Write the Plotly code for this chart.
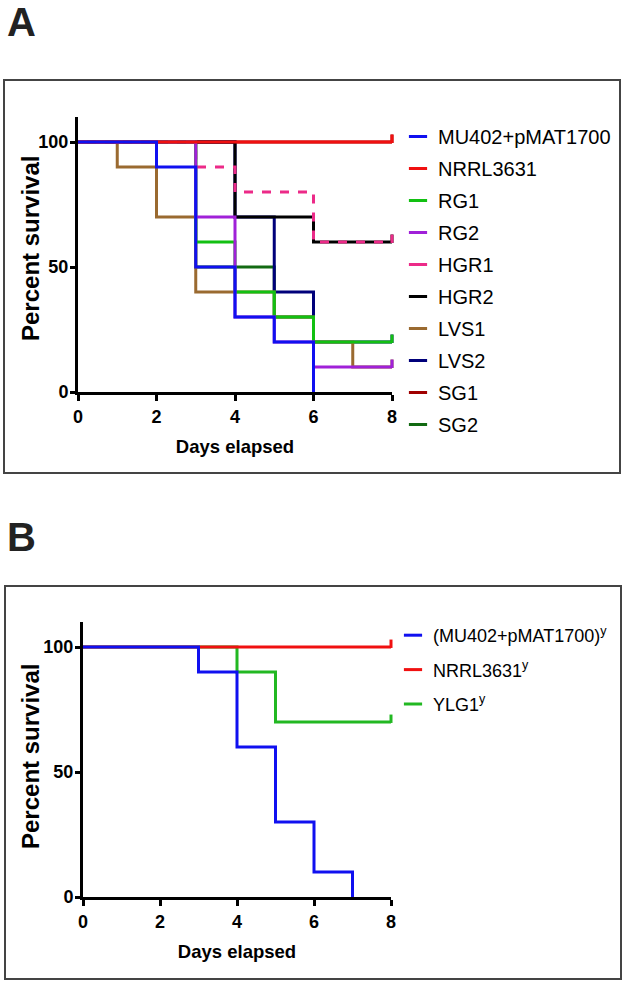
import plotly.graph_objects as go

W, H = 625, 984

# ---------------- data ----------------
names_a = ["MU402+pMAT1700", "NRRL3631", "RG1", "RG2", "HGR1", "HGR2",
           "LVS1", "LVS2", "SG1", "SG2"]
colors_a = ["#1010f0", "#f01010", "#12c012", "#a020d8", "#ec2a88", "#000000",
            "#9a6a30", "#00007a", "#a00000", "#126a12"]
dashes_a = ["solid", "solid", "solid", "solid", "dash", "solid",
            "solid", "solid", "solid", "solid"]
# stacking order (bottom -> top) of the curves as seen in the picture
draw_order_a = [9, 8, 7, 6, 5, 4, 2, 3, 1, 0]

mu402_a_days = [0, 2, 3, 4, 5, 6]
mu402_a_surv = [100, 90, 50, 30, 20, 0]
nrrl_a_days = [0, 8]
nrrl_a_surv = [100, 100]
rg1_days = [0, 3, 4, 5, 6, 8]
rg1_surv = [100, 60, 40, 30, 20, 20]
rg2_days = [0, 3, 4, 5, 6, 8]
rg2_surv = [100, 70, 30, 20, 10, 10]
hgr1_days = [0, 3, 4, 6, 8]
hgr1_surv = [100, 90, 80, 60, 60]
hgr2_days = [0, 4, 6, 8]
hgr2_surv = [100, 70, 60, 60]
lvs1_days = [0, 1, 2, 3, 5, 6, 7, 8]
lvs1_surv = [100, 90, 70, 40, 30, 20, 10, 10]
lvs2_days = [0, 4, 5, 6, 8]
lvs2_surv = [100, 70, 40, 20, 20]
sg1_days = [0, 8]
sg1_surv = [100, 100]
sg2_days = [0, 3, 5, 6]
sg2_surv = [100, 50, 30, 0]

days_a = [mu402_a_days, nrrl_a_days, rg1_days, rg2_days, hgr1_days, hgr2_days,
          lvs1_days, lvs2_days, sg1_days, sg2_days]
surv_a = [mu402_a_surv, nrrl_a_surv, rg1_surv, rg2_surv, hgr1_surv, hgr2_surv,
          lvs1_surv, lvs2_surv, sg1_surv, sg2_surv]

names_b = ["(MU402+pMAT1700)<sup>y</sup>", "NRRL3631<sup>y</sup>", "YLG1<sup>y</sup>"]
colors_b = ["#1010f0", "#f01010", "#22b822"]
draw_order_b = [2, 1, 0]
mu402_b_days = [0, 3, 4, 5, 6, 7]
mu402_b_surv = [100, 90, 60, 30, 10, 0]
nrrl_b_days = [0, 8]
nrrl_b_surv = [100, 100]
ylg1_days = [0, 4, 5, 8]
ylg1_surv = [100, 90, 70, 70]
days_b = [mu402_b_days, nrrl_b_days, ylg1_days]
surv_b = [mu402_b_surv, nrrl_b_surv, ylg1_surv]

x_ticks = [0, 2, 4, 6, 8]
y_ticks = [0, 50, 100]
x_max = 8
y_max = 110
x_title = "Days elapsed"
y_title = "Percent survival"

# ---------------- helpers ----------------
def px_x(p):
    return p / W


def px_y(p):
    return 1 - p / H


SANS = "Liberation Sans, Arial, Helvetica, sans-serif"
LW = 3
TICK_UP = 1.3  # censor tick drawn just above end of curve (data units)

fig = go.Figure()


def add_panel(days, surv, names, colors, dashes, order, xa, ya, legend):
    n = len(names)
    for i in order:
        fig.add_trace(go.Scatter(
            x=days[i], y=surv[i], mode="lines", line_shape="hv",
            line=dict(color=colors[i], width=LW, dash=dashes[i]),
            xaxis=xa, yaxis=ya, showlegend=False, hoverinfo="skip"))
        if surv[i][-1] > 0 and days[i][-1] == x_max:
            fig.add_trace(go.Scatter(
                x=[days[i][-1]], y=[surv[i][-1] + TICK_UP], mode="markers",
                marker=dict(symbol="line-ns", size=6,
                            line=dict(color=colors[i], width=LW)),
                cliponaxis=False, xaxis=xa, yaxis=ya, showlegend=False,
                hoverinfo="skip"))
    # legend entries in original order
    for i in range(n):
        fig.add_trace(go.Scatter(
            x=[None], y=[None], mode="markers", name=names[i],
            marker=dict(symbol="line-ew", size=13,
                        line=dict(color=colors[i], width=LW)),
            xaxis=xa, yaxis=ya, legend=legend, legendgroup=f"{legend}{i}"))


add_panel(days_a, surv_a, names_a, colors_a, dashes_a, draw_order_a, "x", "y", "legend")
add_panel(days_b, surv_b, names_b, colors_b, ["solid"] * 3, draw_order_b, "x2", "y2", "legend2")

tickfont = dict(family=SANS, size=18, color="black", weight="bold")
xtitle = dict(text=x_title,
              font=dict(family=SANS, size=18.5, color="black", weight="bold"),
              standoff=15)

common_x = dict(range=[0, x_max], tickvals=x_ticks, showline=True, linecolor="black",
                linewidth=LW, ticks="outside", ticklen=6, tickwidth=2.5,
                tickcolor="black", tickfont=tickfont, showgrid=False,
                zeroline=False, title=xtitle, automargin=False, fixedrange=True)
common_y = dict(range=[0, y_max], tickvals=y_ticks, showline=True, linecolor="black",
                linewidth=LW, ticks="outside", ticklen=5, tickwidth=2.5,
                tickcolor="black", tickfont=tickfont, showgrid=False,
                ticklabelstandoff=-2,
                zeroline=False, automargin=False, fixedrange=True)

ytitle_font = dict(family=SANS, size=24, color="black", weight="bold")
label_font = dict(family=SANS, size=40, color="#222222", weight="bold")

fig.update_layout(
    width=W, height=H, margin=dict(l=0, r=0, t=0, b=0),
    paper_bgcolor="white", plot_bgcolor="white",
    xaxis=dict(domain=[px_x(78), px_x(392)], anchor="y", **common_x),
    yaxis=dict(domain=[px_y(392), px_y(117)], anchor="x", **common_y),
    xaxis2=dict(domain=[px_x(83), px_x(391)], anchor="y2", **common_x),
    yaxis2=dict(domain=[px_y(897), px_y(622)], anchor="x2", **common_y),
    legend=dict(x=px_x(398), y=px_y(117), xanchor="left", yanchor="top",
                font=dict(family=SANS, size=20, color="black"),
                tracegroupgap=3, bgcolor="rgba(0,0,0,0)", borderwidth=0),
    legend2=dict(x=px_x(393), y=px_y(617), xanchor="left", yanchor="top",
                 font=dict(family=SANS, size=18, color="black"),
                 tracegroupgap=8, bgcolor="rgba(0,0,0,0)", borderwidth=0),
    shapes=[
        dict(type="rect", xref="paper", yref="paper",
             x0=px_x(4), x1=px_x(620), y0=px_y(473), y1=px_y(80),
             line=dict(color="#444444", width=2)),
        dict(type="rect", xref="paper", yref="paper",
             x0=px_x(5), x1=px_x(621), y0=px_y(979), y1=px_y(586),
             line=dict(color="#444444", width=2)),
    ],
    annotations=[
        dict(text="A", xref="paper", yref="paper", x=px_x(5), y=px_y(22.5),
             xanchor="left", yanchor="middle", showarrow=False, height=36,
             font=label_font),
        dict(text="B", xref="paper", yref="paper", x=px_x(5), y=px_y(537),
             xanchor="left", yanchor="middle", showarrow=False, height=36,
             font=label_font),
        dict(text=y_title, xref="paper", yref="paper", x=px_x(30), y=px_y(249),
             xanchor="center", yanchor="middle", textangle=-90, showarrow=False,
             font=ytitle_font),
        dict(text=y_title, xref="paper", yref="paper", x=px_x(30), y=px_y(757),
             xanchor="center", yanchor="middle", textangle=-90, showarrow=False,
             font=ytitle_font),
    ],
    showlegend=True,
)

fig.write_html(
    "out.html",
    config={"displayModeBar": False},
    post_script="document.body.style.margin='0';document.body.style.overflow='hidden';",
)
